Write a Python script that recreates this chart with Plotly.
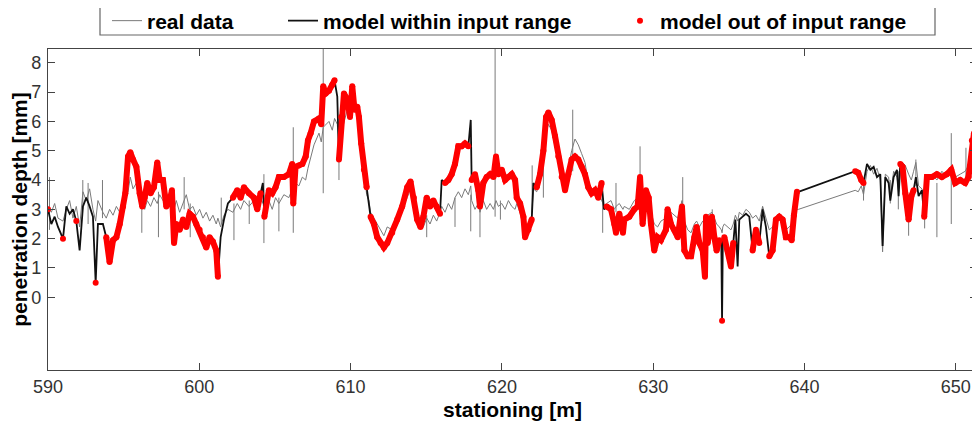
import plotly.graph_objects as go

# ---- data ----
stations = [
    590.00, 590.22, 590.44, 590.66, 590.99, 591.21, 591.43, 591.65, 591.87, 592.09,
    592.31, 592.53, 592.75, 592.97, 593.15, 593.30, 593.63, 593.85, 594.07, 594.30,
    594.52, 594.74, 594.96, 595.11, 595.29, 595.44, 595.62, 595.84, 596.06, 596.23,
    596.39, 596.56, 596.78, 597.00, 597.22, 597.38, 597.60, 597.82, 598.04, 598.19,
    598.33, 598.48, 598.70, 598.92, 599.14, 599.36, 599.58, 599.80, 600.02, 600.24,
    600.46, 600.68, 600.90, 601.12, 601.23, 601.41, 601.63, 601.89, 602.22, 602.51,
    602.73, 602.95, 603.28, 603.61, 603.83, 604.05, 604.20, 604.30, 604.60, 604.82,
    605.04, 605.26, 605.59, 605.92, 606.14, 606.21, 606.36, 606.58, 606.81, 607.03,
    607.18, 607.36, 607.58, 607.91, 608.06, 608.19, 608.35, 608.57, 608.79, 608.94,
    609.12, 609.23, 609.38, 609.56, 609.78, 609.96, 610.11, 610.26, 610.44, 610.55,
    610.70, 610.88, 611.06, 611.21, 611.32, 611.54, 611.76, 611.98, 612.20, 612.42,
    612.75, 613.08, 613.41, 613.74, 613.96, 614.18, 614.40, 614.62, 614.81, 615.03,
    615.25, 615.47, 615.69, 615.91, 616.02, 616.24, 616.46, 616.68, 616.90, 617.12,
    617.34, 617.56, 617.78, 617.94, 618.00, 618.22, 618.44, 618.55, 618.77, 618.99,
    619.22, 619.44, 619.61, 619.77, 619.99, 620.21, 620.43, 620.65, 620.87, 620.98,
    621.20, 621.42, 621.53, 621.75, 621.97, 622.08, 622.30, 622.52, 622.74, 622.92,
    623.07, 623.29, 623.51, 623.73, 623.95, 624.17, 624.39, 624.61, 624.83, 625.05,
    625.27, 625.49, 625.71, 625.93, 626.15, 626.37, 626.59, 626.75, 626.92, 627.21,
    627.43, 627.54, 627.76, 628.00, 628.09, 628.42, 628.75, 628.97, 629.13, 629.30,
    629.52, 629.70, 629.85, 630.07, 630.29, 630.51, 630.84, 630.95, 631.17, 631.40,
    631.62, 631.90, 632.06, 632.28, 632.50, 632.72, 632.87, 633.05, 633.27, 633.42,
    633.49, 633.60, 633.88, 634.04, 634.19, 634.37, 634.50, 634.55, 634.60, 634.70,
    634.92, 635.14, 635.29, 635.43, 635.58, 635.69, 635.91, 636.13, 636.35, 636.57,
    636.79, 637.01, 637.23, 637.45, 637.67, 637.89, 638.11, 638.33, 638.55, 638.77,
    638.99, 639.15, 639.30, 639.50, 639.60, 643.35, 643.55, 643.75, 643.90, 644.13,
    644.35, 644.57, 644.79, 645.01, 645.16, 645.34, 645.56, 645.67, 645.89, 646.11,
    646.22, 646.33, 646.48, 646.66, 646.88, 647.06, 647.21, 647.36, 647.54, 647.76,
    647.91, 648.09, 648.42, 648.75, 649.08, 649.41, 649.70, 649.96, 650.29, 650.62,
    650.84, 651.06, 651.20, 651.39, 651.59,
]

model_depth = [
    3.0, 2.5, 2.75, 2.4, 2.0, 3.1, 2.85, 3.0, 2.6, 1.6,
    3.1, 3.4, 3.1, 2.75, 0.5, 2.5, 2.5, 2.05, 1.2, 1.95,
    2.05, 2.5, 3.1, 3.55, 4.8, 4.95, 4.7, 4.45, 3.55, 3.1,
    3.4, 3.9, 3.55, 3.75, 4.6, 4.0, 4.0, 3.1, 3.3, 3.65,
    1.85, 2.5, 2.3, 2.65, 2.4, 2.85, 2.75, 2.5, 2.3, 2.05,
    1.7, 2.05, 1.9, 1.6, 0.7, 2.05, 2.65, 3.2, 3.4, 3.65,
    3.4, 3.75, 3.55, 3.4, 3.0, 3.55, 3.9, 2.75, 3.65, 3.55,
    3.75, 4.1, 4.1, 4.2, 4.55, 3.2, 4.45, 4.5, 4.55, 4.8,
    5.35, 5.6, 6.0, 6.1, 5.9, 7.2, 6.95, 7.05, 7.25, 7.4,
    6.85, 4.7, 6.15, 6.95, 6.75, 6.15, 7.2, 6.4, 6.5, 6.15,
    5.25, 4.35, 3.75, 3.1, 2.75, 2.5, 2.05, 1.85, 1.7, 1.85,
    2.2, 2.65, 3.1, 3.75, 3.95, 3.4, 2.65, 2.4, 2.75, 3.4,
    3.1, 3.3, 3.1, 2.85, 4.0, 3.9, 4.0, 4.2, 4.55, 5.15,
    5.15, 5.25, 5.15, 6.05, 4.0, 4.2, 3.65, 3.1, 3.9, 4.1,
    4.2, 4.1, 4.8, 4.2, 4.35, 4.0, 4.1, 4.2, 4.0, 3.4,
    3.2, 2.75, 2.05, 2.3, 2.65, 3.9, 3.75, 4.2, 5.0, 6.15,
    6.3, 6.05, 5.5, 4.8, 4.1, 3.65, 4.2, 4.7, 4.8, 4.7,
    4.45, 4.2, 3.75, 3.55, 3.65, 3.4, 3.9, 3.0, 3.1, 3.0,
    2.5, 2.2, 2.85, 2.2, 2.65, 2.75, 3.0, 3.1, 4.1, 2.5,
    3.65, 3.4, 2.5, 1.6, 2.05, 1.95, 2.3, 3.0, 2.5, 2.3,
    2.05, 3.1, 1.6, 1.4, 1.4, 2.05, 2.4, 1.85, 1.6, 0.7,
    2.75, 1.85, 2.75, 2.05, 1.6, 1.95, 1.9, -0.8, 1.9, 2.05,
    1.6, 1.05, 1.85, 2.65, 1.05, 2.65, 2.75, 2.85, 2.75, 1.6,
    2.3, 1.85, 3.0, 2.4, 1.4, 1.6, 2.65, 2.75, 2.65, 2.05,
    2.05, 1.95, 2.8, 3.6, 3.6, 4.3, 4.25, 4.0, 3.9, 4.55,
    4.35, 4.45, 4.1, 4.2, 1.75, 4.1, 3.9, 3.3, 4.1, 4.35,
    3.45, 4.55, 4.45, 3.55, 2.65, 3.45, 3.65, 4.1, 3.45, 3.65,
    2.75, 4.1, 4.1, 4.2, 4.1, 4.2, 4.35, 3.9, 4.0, 3.9,
    4.1, 5.35, 5.6, 5.0, 4.9,
]

real_depth = [
    3.1, 2.9, 3.2, 2.7, 2.6, 3.0, 3.3, 2.7, 3.1, 2.4,
    3.6, 3.3, 3.7, 3.0, 2.6, 3.3, 2.9, 2.7, 3.0, 2.8,
    3.1, 2.9, 3.2, 3.5, 3.6, 4.1, 3.7, 3.9, 3.2, 3.4,
    3.0, 3.3, 3.1, 3.4, 3.2, 3.5, 3.3, 3.6, 3.2, 3.4,
    3.0, 3.3, 2.9, 3.2, 3.5, 3.0, 3.1, 2.8, 3.0, 2.7,
    2.9, 2.6, 2.8, 2.5, 2.7, 2.4, 2.8, 3.0, 2.9, 3.2,
    3.0, 3.3, 3.1, 3.3, 3.0, 3.4, 3.2, 3.1, 3.3, 3.0,
    3.4, 3.2, 3.5, 3.4, 3.7, 3.5, 3.9, 3.8, 4.1, 4.0,
    4.4, 4.8, 5.2, 5.6, 5.3, 5.8, 5.9, 6.0, 5.7, 6.1,
    5.9, 5.2, 5.6, 6.0, 6.4, 6.2, 6.6, 6.5, 6.3, 6.0,
    5.2, 4.4, 3.5, 3.3, 2.9, 2.7, 2.5, 2.3, 2.1, 2.4,
    2.3, 2.5, 3.0, 3.4, 3.7, 3.3, 2.6, 2.5, 2.4, 2.7,
    2.5, 2.8, 2.6, 2.9, 3.1, 2.9, 3.2, 3.0, 3.4, 3.6,
    3.4, 3.7, 3.5, 3.8, 3.3, 3.0, 3.2, 2.9, 3.3, 3.0,
    3.2, 3.0, 3.3, 3.1, 3.2, 3.0, 3.3, 3.1, 3.0, 3.2,
    2.9, 2.6, 2.4, 2.5, 2.8, 3.7, 3.6, 4.0, 4.5, 5.6,
    5.9, 5.7, 5.2, 4.6, 4.0, 3.8, 4.4, 5.0, 5.4, 5.2,
    4.9, 4.6, 3.9, 3.7, 3.5, 3.6, 3.3, 3.1, 3.2, 3.3,
    3.0, 3.1, 3.2, 3.0, 3.1, 3.0, 3.3, 3.4, 3.8, 3.2,
    3.5, 3.3, 2.9, 2.5, 2.4, 2.6, 2.7, 3.0, 2.9, 2.8,
    2.7, 3.3, 2.6, 2.3, 2.2, 2.5, 2.6, 2.4, 2.6, 2.5,
    2.7, 2.8, 2.9, 2.7, 2.5, 2.4, 2.3, 2.2, 2.4, 2.5,
    2.4, 2.3, 2.5, 2.8, 2.6, 2.9, 2.8, 3.0, 2.9, 2.7,
    2.8, 2.6, 3.1, 2.7, 2.3, 2.4, 2.6, 2.8, 2.5, 2.3,
    2.4, 2.5, 2.8, 3.0, 3.0, 3.65, 3.6, 3.8, 3.5, 4.3,
    4.5, 4.2, 4.4, 4.0, 1.55, 4.2, 4.1, 3.4, 4.3, 4.1,
    3.6, 4.4, 4.6, 4.5, 4.2, 4.0, 4.3, 4.6, 3.8, 3.7,
    3.5, 4.0, 4.2, 4.0, 4.3, 4.1, 4.4, 4.1, 4.2, 4.3,
    4.5, 5.0, 5.3, 5.1, 4.8,
]

out_of_range = [
    1, 0, 0, 0, 1, 0, 0, 0, 1, 0,
    0, 0, 0, 0, 1, 0, 0, 1, 1, 1,
    1, 1, 1, 1, 1, 1, 1, 1, 1, 1,
    1, 1, 1, 1, 1, 1, 1, 1, 1, 1,
    1, 1, 1, 1, 1, 1, 1, 1, 1, 1,
    1, 1, 1, 1, 1, 0, 0, 0, 1, 1,
    1, 1, 1, 1, 1, 1, 0, 1, 1, 1,
    1, 1, 1, 1, 1, 1, 1, 1, 1, 1,
    1, 1, 1, 1, 1, 1, 1, 1, 1, 1,
    0, 1, 1, 1, 1, 1, 1, 1, 1, 1,
    1, 1, 1, 0, 1, 1, 1, 1, 1, 1,
    1, 1, 1, 1, 1, 1, 1, 1, 1, 1,
    1, 1, 1, 1, 0, 1, 1, 1, 1, 1,
    1, 1, 1, 0, 1, 1, 1, 1, 1, 1,
    1, 1, 1, 1, 1, 1, 1, 1, 1, 1,
    1, 1, 1, 1, 1, 0, 1, 1, 1, 1,
    1, 1, 1, 1, 1, 1, 1, 1, 1, 1,
    1, 1, 1, 1, 1, 1, 1, 0, 1, 1,
    1, 1, 1, 1, 1, 1, 1, 1, 1, 1,
    1, 1, 1, 1, 1, 1, 1, 1, 1, 1,
    1, 1, 1, 1, 1, 1, 1, 1, 1, 1,
    1, 1, 1, 1, 1, 1, 0, 1, 0, 1,
    1, 1, 1, 0, 0, 0, 0, 0, 0, 1,
    1, 1, 0, 0, 1, 1, 1, 1, 1, 1,
    1, 1, 1, 1, 0, 1, 1, 1, 1, 0,
    0, 0, 0, 0, 0, 0, 0, 0, 0, 0,
    0, 1, 1, 1, 1, 1, 1, 0, 0, 0,
    1, 1, 1, 1, 1, 1, 1, 1, 1, 1,
    1, 1, 1, 1, 1,
]

# short spikes of the real data signal: station, lowest and highest reading
spike_x = [590.10, 592.30, 592.65, 593.60, 596.20, 597.30, 599.00, 599.40, 601.45, 602.29,
           603.30, 604.27, 605.26, 606.21, 608.19, 609.23, 615.03, 616.90, 617.94, 618.55,
           619.55, 619.90, 622.00, 622.74, 624.68, 626.66, 627.54, 629.13, 631.95, 633.90,
           637.23, 643.90, 645.67, 646.20, 646.88, 647.36, 647.94, 648.75, 649.70, 650.67]
spike_lo = [2.3, 3.0, 2.5, 2.7, 2.2, 2.05, 3.0, 2.05, 2.5, 1.95,
            2.5, 1.85, 2.25, 2.2, 3.55, 4.0, 2.05, 2.4, 2.25, 2.05,
            2.75, 2.65, 2.9, 3.4, 4.3, 2.2, 2.9, 3.0, 2.6, 2.5,
            2.6, 3.3, 3.2, 3.0, 2.1, 3.8, 2.35, 2.05, 2.5, 3.9]
spike_hi = [4.1, 4.0, 3.9, 4.0, 3.4, 3.6, 4.1, 3.2, 3.4, 3.2,
            3.3, 4.2, 3.4, 5.8, 9.0, 6.0, 2.8, 3.4, 3.5, 3.2,
            9.0, 3.3, 4.5, 4.5, 6.4, 3.4, 3.9, 5.15, 4.1, 3.0,
            3.1, 3.9, 4.0, 4.3, 3.5, 4.7, 3.6, 3.9, 5.6, 5.1]

x_ticks = [590, 600, 610, 620, 630, 640, 650]
y_ticks = [0, 1, 2, 3, 4, 5, 6, 7, 8]

# ---- derived plotting arrays ----
sx, sy = [], []
for x, lo, hi in zip(spike_x, spike_lo, spike_hi):
    sx += [x, x, None]
    sy += [lo, hi, None]

red_y = [m if o else None for m, o in zip(model_depth, out_of_range)]

FONT = "Arial, 'Liberation Sans', sans-serif"
# the page body adds an 8 px margin, so the figure is 8 px smaller than the window
W, H = 972, 413

fig = go.Figure()
fig.add_trace(go.Scatter(x=stations, y=real_depth, mode="lines", name="real data",
                         line=dict(color="#7a7a7a", width=1), legend="legend"))
fig.add_trace(go.Scatter(x=sx, y=sy, mode="lines", showlegend=False,
                         line=dict(color="#7a7a7a", width=1)))
fig.add_trace(go.Scatter(x=stations, y=model_depth, mode="lines", name="model within input range",
                         line=dict(color="#111111", width=1.8), legend="legend2"))
fig.add_trace(go.Scatter(x=stations, y=red_y, mode="lines", showlegend=False,
                         connectgaps=False, line=dict(color="#ff0000", width=6)))
fig.add_trace(go.Scatter(x=stations, y=red_y, mode="markers", name="model out of input range",
                         marker=dict(color="#ff0000", size=6), legend="legend3"))

legend_common = dict(orientation="h", yanchor="middle", y=1 - 13 / H, yref="container",
                     xanchor="left", xref="container", itemsizing="trace",
                     bgcolor="rgba(0,0,0,0)", borderwidth=0,
                     font=dict(family=FONT, size=21, color="#000000", weight="bold"))
fig.update_layout(
    width=W, height=H,
    margin=dict(l=40, r=3, t=41, b=51, autoexpand=False),
    paper_bgcolor="white", plot_bgcolor="white",
    font=dict(family=FONT, size=18, color="#333333"),
    legend=dict(x=99 / W, **legend_common),
    legend2=dict(x=275 / W, **legend_common),
    legend3=dict(x=612 / W, **legend_common),
    shapes=[dict(type="rect", xref="paper", yref="paper",
                 x0=(100 - 48) / 929, x1=(935 - 48) / 929,
                 y0=(370 - 35) / 321, y1=(370 - 6) / 321,
                 line=dict(color="#666666", width=1.2), fillcolor="rgba(0,0,0,0)")],
    xaxis=dict(range=[590, 651.4], tickvals=x_ticks, ticks="inside", ticklen=7,
               tickcolor="#444444", showline=True, linecolor="#444444", linewidth=1.2,
               mirror="ticks", showgrid=False, zeroline=False, automargin=False,
               tickfont=dict(family=FONT, size=18, color="#333333"),
               title=dict(text="stationing [m]", standoff=6,
                          font=dict(family=FONT, size=21, color="#000000", weight="bold"))),
    yaxis=dict(range=[-2.48, 8.47], tickvals=y_ticks, ticks="inside", ticklen=7,
               tickcolor="#444444", showline=True, linecolor="#444444", linewidth=1.2,
               mirror="ticks", showgrid=False, zeroline=False, automargin=False,
               ticklabelstandoff=2,
               tickfont=dict(family=FONT, size=18, color="#333333"),
               title=dict(text="penetration depth [mm]", standoff=2,
                          font=dict(family=FONT, size=21, color="#000000", weight="bold"))),
)

fig.write_html("out.html")
